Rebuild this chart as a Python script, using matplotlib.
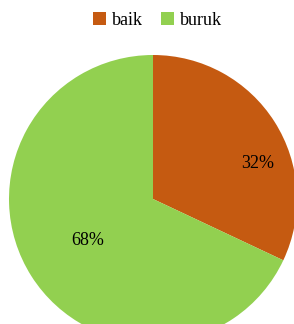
import numpy as np
import matplotlib
matplotlib.use("Agg")
import matplotlib.pyplot as plt

plt.rcParams['font.family'] = ['Liberation Serif', 'DejaVu Serif']

labels = ['baik', 'buruk']
values = [32, 68]
colors = ['#C55A11', '#92D050']


def main():
    fig = plt.figure(figsize=(2.94, 3.24), dpi=100)
    ax = fig.add_axes([0, 0, 1, 1])

    wedges, texts, autotexts = ax.pie(values, colors=colors, startangle=90, counterclock=False,
                                      autopct='%1.0f%%', pctdistance=0.54,
                                      textprops=dict(fontsize=13, color='black'))
    # nudge the small slice label toward the right, like the original
    autotexts[0].set_position((0.73, 0.25))

    r_px = 144.0
    cx, cy = 153.0, 125.0
    ax.set_xlim(-cx / r_px, (294 - cx) / r_px)
    ax.set_ylim(-cy / r_px, (324 - cy) / r_px)
    ax.set_aspect('auto')
    ax.axis('off')

    fig.legend(wedges, labels, loc='center', bbox_to_anchor=(0.535, 0.938), ncol=2,
               frameon=False, fontsize=13, handlelength=0.75, handleheight=0.75,
               handletextpad=0.3, columnspacing=1.0)

    fig.savefig('out.png', dpi=100)


if __name__ == "__main__":
    main()
